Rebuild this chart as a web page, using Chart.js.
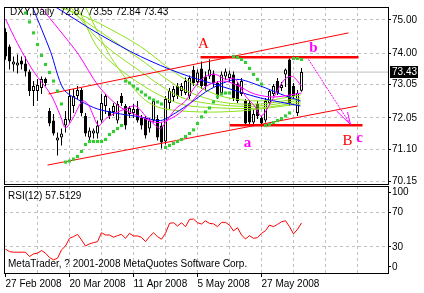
<!DOCTYPE html>
<html>
<head>
<meta charset="utf-8">
<script src="https://cdn.jsdelivr.net/npm/chart.js@4"></script>
<style>
html, body { margin: 0; padding: 0; background: #fff; }
#wrap { position: relative; width: 424px; height: 293px; }
canvas { position: absolute; left: 0; top: 0; }
</style>
</head>
<body>
<div id="wrap">
<canvas id="price-chart" width="424" height="293"></canvas>
<canvas id="rsi-chart" width="424" height="293"></canvas>
</div>
<script>
// daily bars, index 0 = 27 Feb 2008
const opens = [74.64, 74.20, 73.66, 73.63, 73.78, 73.69, 73.45, 72.86, 72.86, 72.95, 73.22, 72.26, 71.97, 71.37, 71.46, 71.82, 71.97, 72.41, 72.71, 72.89, 72.11, 71.46, 71.58, 71.58, 71.97, 72.41, 72.26, 72.23, 71.97, 72.71, 72.41, 72.17, 72.20, 72.32, 72.05, 72.05, 71.73, 71.97, 72.02, 71.82, 71.34, 72.50, 72.68, 73.01, 72.86, 72.80, 72.71, 73.50, 73.13, 73.54, 73.30, 73.30, 73.39, 73.10, 72.80, 73.30, 73.25, 73.36, 73.07, 72.77, 72.56, 72.50, 71.91, 72.47, 72.05, 71.97, 72.50, 72.77, 73.16, 72.95, 73.36, 73.81, 73.01, 72.20, 72.87]
const highs = [74.75, 74.26, 73.90, 73.96, 73.90, 73.90, 73.51, 73.16, 73.22, 73.30, 73.27, 72.35, 72.17, 71.61, 71.73, 72.26, 72.92, 72.92, 73.01, 72.95, 72.20, 71.76, 71.73, 71.97, 72.77, 72.77, 72.35, 72.50, 72.56, 72.80, 72.47, 72.41, 72.47, 72.56, 72.14, 72.11, 72.05, 72.62, 72.14, 71.91, 72.71, 72.95, 73.01, 73.10, 73.10, 73.27, 73.33, 73.62, 73.51, 73.75, 73.45, 73.82, 73.48, 73.16, 73.45, 73.54, 73.48, 73.45, 73.13, 73.25, 72.62, 72.56, 72.32, 72.56, 72.11, 72.65, 72.92, 73.07, 73.25, 73.13, 73.54, 73.84, 73.10, 72.89, 73.55]
const lows = [73.80, 73.51, 73.45, 73.39, 73.51, 73.30, 72.71, 72.41, 72.56, 72.77, 73.01, 71.80, 71.52, 70.92, 71.22, 71.61, 71.91, 72.20, 72.62, 72.10, 71.49, 71.31, 71.43, 71.43, 71.91, 72.17, 72.02, 72.11, 71.88, 72.41, 71.70, 72.05, 72.05, 71.91, 71.70, 71.43, 71.61, 71.91, 71.37, 71.13, 71.25, 72.32, 72.56, 72.62, 72.71, 72.74, 72.62, 73.01, 73.04, 72.92, 72.86, 73.22, 72.98, 72.62, 72.74, 73.19, 73.13, 72.56, 72.50, 72.71, 71.82, 71.85, 71.85, 72.02, 71.79, 71.91, 72.44, 72.71, 72.74, 72.86, 72.98, 72.41, 72.65, 72.11, 72.84]
const closes = [73.90, 73.75, 73.75, 73.72, 73.66, 73.45, 72.86, 73.01, 73.04, 73.22, 73.10, 71.88, 71.58, 71.46, 71.58, 72.02, 72.71, 72.71, 72.89, 72.20, 71.58, 71.67, 71.67, 71.82, 72.50, 72.71, 72.11, 72.41, 72.47, 72.50, 71.82, 72.35, 72.32, 71.97, 71.82, 71.52, 71.97, 72.56, 71.46, 71.31, 72.62, 72.86, 72.92, 72.71, 73.01, 73.16, 73.25, 73.10, 73.42, 73.01, 73.01, 73.51, 73.10, 72.74, 73.36, 73.45, 73.39, 72.65, 72.56, 73.16, 71.88, 71.91, 72.17, 72.11, 71.88, 72.56, 72.86, 73.01, 72.80, 73.04, 73.51, 72.50, 72.71, 72.80, 73.43]

// parabolic SAR, one value per bar (null = off the chart)
const sarValues = [null, null, null, null, null, 75.21, 74.94, 74.61, 74.26, 73.93, 73.66, 73.42, 73.16, 72.86, 72.47,
  70.72, 70.75, 70.81, 70.89, 71.04, 71.25, 71.34, 71.34, 71.34, 71.34, 71.40, 71.55, 71.64, 71.73, 71.82,
  73.16, 73.10, 73.01, 72.92, 72.83, 72.74, 72.65, 72.59, 72.53, 72.47,
  71.16, 71.22, 71.28, 71.34, 71.40, 71.49, 71.58, 71.69, 71.88, 72.08, 72.23, 72.35, 72.53, 72.68, 72.77, 72.80, 72.80,
  73.90, 73.87, 73.81, 73.72, 73.54, 73.36, 73.21, 73.07,
  71.82, 71.85, 71.91, 71.97, 72.03, 72.11, 72.20,
  73.84, 73.84, 73.81]

// moving averages as [bar, price]
const maFastMagenta = [[0, 75.03], [3, 74.29], [7, 73.45], [11.25, 72.77], [13.75, 72.11], [15, 71.75], [16.75, 72.02], [19.25, 72.56], [20.75, 72.44], [23.25, 71.82], [25, 72.02], [27.5, 72.20], [30, 72.32], [32.5, 72.41], [35, 72.11], [37.5, 71.82], [38.75, 71.73], [40, 71.91], [42.5, 72.32], [45, 72.56], [47.5, 73.01], [50, 73.30], [52.5, 73.36], [55, 73.21], [57.25, 73.24], [60, 72.71], [62.25, 72.41], [64, 72.11], [67.25, 72.71], [69.75, 73.21], [71.75, 73.30], [74, 73.01]]
const maSlowMagenta = [[8.75, 75.39], [13.25, 74.73], [18.25, 73.96], [23.25, 73.01], [28.25, 72.41], [33.25, 72.11], [38.25, 71.91], [42.5, 72.11], [46.25, 72.50], [50.25, 73.01], [54.5, 73.16], [57.75, 73.04], [62.25, 72.77], [67.25, 72.68], [74, 72.80]]
const maFastBlue = [[6.75, 75.39], [11.25, 74.05], [14.5, 72.92], [18.75, 72.56], [23, 72.32], [28.75, 72.17], [33.75, 72.08], [38.75, 71.97], [42.5, 72.20], [46.25, 72.50], [51.25, 72.92], [57.75, 73.21], [63.75, 73.01], [68.75, 72.77], [73.75, 72.56]]
const maSlowBlue = [[12.5, 75.39], [23.75, 74.55], [33.75, 73.90], [43.75, 73.39], [53.75, 73.01], [63.75, 72.65], [73.75, 72.41]]
const maFan = [
  [[13.25, 75.39], [18.25, 75.18], [23.75, 74.88], [33.75, 74.20], [43.75, 73.30], [53.75, 72.71], [63.75, 72.56], [73.75, 72.74]],
  [[14.75, 75.39], [23.75, 74.64], [33.75, 73.81], [43.75, 72.95], [53.75, 72.53], [63.75, 72.47], [73.75, 72.65]],
  [[16.25, 75.39], [23.75, 74.35], [33.75, 73.45], [43.75, 72.68], [53.75, 72.44], [63.75, 72.41], [73.75, 72.59]],
  [[18, 75.39], [23.75, 74.05], [33.75, 73.07], [43.75, 72.47], [53.75, 72.35], [63.75, 72.35], [73.75, 72.53]],
  [[20, 75.39], [26.25, 73.90], [33.75, 72.71], [38.75, 72.35], [48.75, 72.23], [58.75, 72.26], [73.75, 72.47]],
]

// drawn objects
const channelLow = [[10.5, 70.63], [88, 72.41]]
const channelHigh = [[10.75, 72.77], [85.75, 74.61]]
const levelTop = [[48.75, 73.88], [88.25, 73.88]]
const levelBottom = [[56, 71.83], [89.25, 71.83]]
const waveArrow = [[75.75, 73.81], [86.25, 71.85]]
const arrowWingLeft = [[82.75, 72.26], [86.25, 71.85]]
const arrowWingRight = [[85.5, 72.23], [86.25, 71.85]]
const waveText = ["A", "b", "a", "B", "c"]
const waveIdx = [49.5, 77, 60.5, 85.5, 88.5]
const wavePrice = [74.26, 74.14, 71.28, 71.34, 71.43]

const rsiValues = [27.4, 24.6, 23.9, 23.9, 23.9, 23.9, 18.9, 22.0, 22.8, 25.8, 22.8, 17.8, 15.1, 17.0, 26.6, 31.1, 39.9, 41.8, 44.4, 38.0, 31.1, 33.5, 34.9, 36.0, 46.3, 43.7, 43.7, 41.1, 43.0, 44.4, 39.9, 45.6, 42.5, 42.6, 41.0, 36.1, 41.8, 46.3, 41.8, 38.8, 45.6, 57.0, 57.8, 54.0, 57.8, 53.2, 61.6, 62.0, 57.8, 56.3, 60.0, 57.0, 56.5, 53.2, 58.2, 58.2, 55.0, 48.3, 52.1, 43.7, 39.1, 42.9, 39.9, 40.6, 45.6, 48.6, 55.1, 53.2, 55.9, 58.9, 60.0, 53.2, 44.9, 50.2, 57.5]
const rsiTitle = "RSI(12) 57.5129"

const priceTicks = [70.15, 71.10, 72.05, 73.05, 74.00, 75.00]
const rsiTickPos = [7, 30, 70, 92.5]
const rsiTickLabels = ["0", "30", "70", "100"]
const rsiGridLevels = [30, 70]
const gridIdx = [8, 16, 24, 32, 40, 48, 56, 64, 72, 80, 88]
const dateIdx = [0, 16, 32, 48, 64]
const dateLabels = ["27 Feb 2008", "20 Mar 2008", "11 Apr 2008", "5 May 2008", "27 May 2008"]

const xMin = -0.375
const xMax = 95.625
const priceMin = 70.06
const priceMax = 75.39

const FONT = "Liberation Sans"
const GRID = "#c0c0c0"
const FAN_GREEN = "#8ee21a"
const toPoints = (pairs) => pairs.map(([x, y]) => ({ x, y }))

function lineSet(pairs, color, order, extra = {}) {
    return {
        type: "line",
        data: toPoints(pairs),
        borderColor: color,
        borderWidth: 1,
        pointRadius: 0,
        tension: 0,
        order,
        ...extra,
    }
}

const lastClose = closes[closes.length - 1]

const priceDecor = {
    id: "priceDecor",
    afterDatasetsDraw(chart) {
        const { ctx, scales: { x, y } } = chart
        ctx.save()
        ctx.textAlign = "center"
        ctx.textBaseline = "middle"
        waveText.forEach((text, k) => {
            const upper = text === text.toUpperCase()
            ctx.font = upper ? '15px "Liberation Serif"' : 'bold 15px "Liberation Serif"'
            ctx.fillStyle = upper ? "#ff0000" : "#ff00ff"
            ctx.fillText(text, x.getPixelForValue(waveIdx[k]), y.getPixelForValue(wavePrice[k]))
        })
        ctx.restore()
    },
    afterDraw(chart) {
        const { ctx, chartArea: a, scales: { y } } = chart
        ctx.save()
        ctx.strokeStyle = "#000"
        ctx.lineWidth = 1
        ctx.strokeRect(a.left + 0.5, a.top + 0.5, a.right - a.left, a.bottom - a.top)

        ctx.fillStyle = "#000"
        ctx.font = `10px "${FONT}"`
        ctx.textBaseline = "middle"
        ctx.textAlign = "left"
        const o = opens[opens.length - 1]
        const h = highs[highs.length - 1]
        const l = lows[lows.length - 1]
        ctx.fillText(`DXY,Daily  ${o.toFixed(2)} ${h.toFixed(2)} ${l.toFixed(2)} ${lastClose.toFixed(2)}`, 10, 12.5)

        // current price box on the price axis
        const py = Math.round(y.getPixelForValue(lastClose))
        ctx.fillRect(a.right + 2, py - 6, 28, 12)
        ctx.fillStyle = "#fff"
        ctx.fillText(lastClose.toFixed(2), a.right + 4, py + 0.5)
        ctx.restore()
    },
}

new Chart(document.getElementById("price-chart"), {
    type: "bar",
    data: {
        datasets: [
            lineSet([[xMin, lastClose], [xMax, lastClose]], GRID, 40),
            {
                data: opens.map((o, i) => ({ x: i, y: [lows[i], highs[i]] })),
                backgroundColor: "#000",
                borderWidth: 0,
                barThickness: 1,
                grouped: false,
                inflateAmount: 0,
                order: 30,
            },
            {
                data: opens.map((o, i) => ({ x: i, y: [o, closes[i]] })),
                backgroundColor: opens.map((o, i) => (closes[i] >= o ? "#fff" : "#000")),
                borderColor: "#000",
                borderWidth: 1,
                borderSkipped: false,
                barThickness: 3,
                grouped: false,
                inflateAmount: 0,
                order: 29,
            },
            ...maFan.map((pairs) => lineSet(pairs, FAN_GREEN, 12, { tension: 0.3 })),
            lineSet(maSlowBlue, "#0000ff", 11, { tension: 0.3 }),
            lineSet(maFastBlue, "#0000ff", 10, { tension: 0.3 }),
            lineSet(maSlowMagenta, "#ff00ff", 9, { tension: 0.3 }),
            lineSet(maFastMagenta, "#ff00ff", 8, { tension: 0.3 }),
            lineSet(channelLow, "#ff0000", 6),
            lineSet(channelHigh, "#ff0000", 6),
            lineSet(levelTop, "#ff0000", 5, { borderWidth: 2.5 }),
            lineSet(levelBottom, "#ff0000", 5, { borderWidth: 2.5 }),
            lineSet(waveArrow, "#ff00ff", 4, { borderDash: [2, 1] }),
            lineSet(arrowWingLeft, "#ff00ff", 4),
            lineSet(arrowWingRight, "#ff00ff", 4),
            {
                type: "scatter",
                data: sarValues.map((v, i) => (v === null ? null : { x: i, y: v })).filter(Boolean),
                pointStyle: "rect",
                pointRadius: 2.2,
                pointBorderWidth: 0,
                pointBackgroundColor: "#32cd32",
                order: 2,
            },
        ],
    },
    options: {
        responsive: false,
        animation: false,
        events: [],
        layout: { padding: { left: 4, top: 5, right: 0, bottom: 109 }, autoPadding: false },
        plugins: { legend: { display: false }, tooltip: { enabled: false } },
        scales: {
            x: {
                type: "linear",
                min: xMin,
                max: xMax,
                offset: false,
                afterBuildTicks(scale) {
                    scale.ticks = gridIdx.map((v) => ({ value: v }))
                },
                afterFit(scale) {
                    scale.height = 0
                },
                ticks: { display: false },
                grid: { color: GRID, drawTicks: false, offset: false },
                border: { display: false, dash: [3, 3] },
            },
            y: {
                position: "right",
                min: priceMin,
                max: priceMax,
                beginAtZero: false,
                afterBuildTicks(scale) {
                    scale.ticks = priceTicks.map((v) => ({ value: v }))
                },
                afterFit(scale) {
                    scale.width = 36
                },
                ticks: {
                    color: "#000",
                    padding: 1,
                    font: { family: FONT, size: 10 },
                    callback(value) {
                        return value.toFixed(2)
                    },
                },
                grid: { color: GRID, tickColor: "#000", tickLength: 3 },
                border: { display: false, dash: [3, 3] },
            },
        },
    },
    plugins: [priceDecor],
})

const rsiDecor = {
    id: "rsiDecor",
    afterDraw(chart) {
        const { ctx, chartArea: a } = chart
        ctx.save()
        ctx.strokeStyle = "#000"
        ctx.lineWidth = 1
        ctx.strokeRect(a.left + 0.5, a.top + 0.5, a.right - a.left, a.bottom - a.top)
        ctx.fillStyle = "#000"
        ctx.font = `10px "${FONT}"`
        ctx.textAlign = "left"
        ctx.textBaseline = "middle"
        ctx.fillText(rsiTitle, 8, 196)
        ctx.fillText("MetaTrader, ? 2001-2008 MetaQuotes Software Corp.", 8, 264)
        ctx.restore()
    },
}

new Chart(document.getElementById("rsi-chart"), {
    type: "line",
    data: {
        datasets: [
            {
                data: rsiValues.map((v, i) => ({ x: i, y: v })),
                borderColor: "#ff0000",
                borderWidth: 1,
                pointRadius: 0,
                tension: 0,
            },
        ],
    },
    options: {
        responsive: false,
        animation: false,
        events: [],
        layout: { padding: { left: 4, top: 186, right: 0, bottom: 0 }, autoPadding: false },
        plugins: { legend: { display: false }, tooltip: { enabled: false } },
        scales: {
            x: {
                type: "linear",
                min: xMin,
                max: xMax,
                afterBuildTicks(scale) {
                    scale.ticks = [0, ...gridIdx].map((v) => ({ value: v }))
                },
                afterFit(scale) {
                    scale.height = 20
                },
                ticks: {
                    color: "#000",
                    align: "start",
                    autoSkip: false,
                    maxRotation: 0,
                    padding: 1,
                    font: { family: FONT, size: 10 },
                    callback(value) {
                        const k = dateIdx.indexOf(value)
                        return k >= 0 ? dateLabels[k] : ""
                    },
                },
                grid: {
                    color: (ctx) => (ctx.tick && ctx.tick.value === 0 ? "rgba(0,0,0,0)" : GRID),
                    tickColor: (ctx) => (ctx.tick && dateIdx.includes(ctx.tick.value) ? "#000" : "rgba(0,0,0,0)"),
                    tickLength: 4,
                },
                border: { display: false, dash: [3, 3] },
            },
            y: {
                position: "right",
                min: 0,
                max: 100,
                afterBuildTicks(scale) {
                    scale.ticks = rsiTickPos.map((v) => ({ value: v }))
                },
                afterFit(scale) {
                    scale.width = 36
                },
                ticks: {
                    color: "#000",
                    padding: 1,
                    font: { family: FONT, size: 10 },
                    callback(value, index) {
                        return rsiTickLabels[index]
                    },
                },
                grid: {
                    color: (ctx) => (ctx.tick && rsiGridLevels.includes(ctx.tick.value) ? GRID : "rgba(0,0,0,0)"),
                    tickColor: "#000",
                    tickLength: 3,
                },
                border: { display: false, dash: [3, 3] },
            },
        },
    },
    plugins: [rsiDecor],
})
</script>
</body>
</html>
